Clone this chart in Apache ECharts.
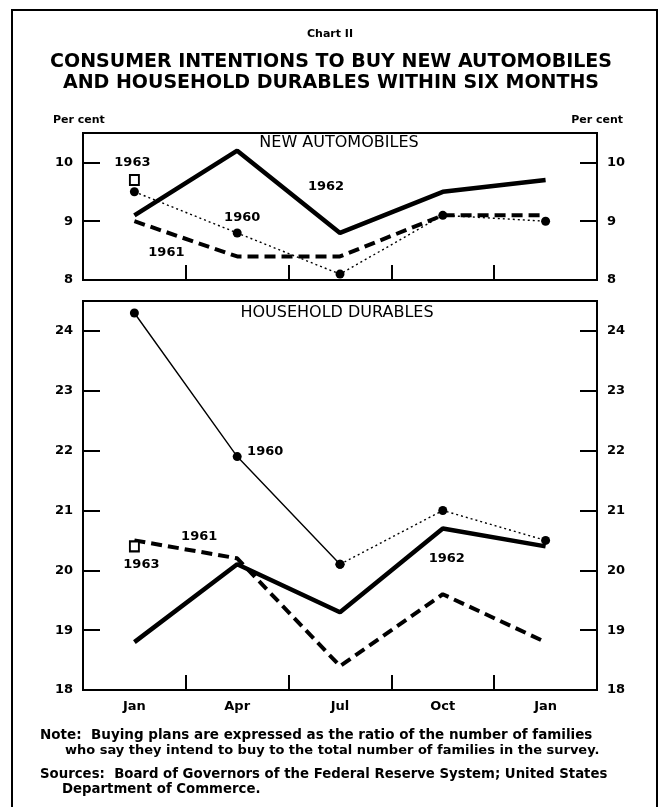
<!DOCTYPE html>
<html>
<head>
<meta charset="utf-8">
<script src="https://cdn.jsdelivr.net/npm/echarts@6/dist/echarts.min.js"></script>
<style>
html,body{margin:0;padding:0;background:#fff}
#chart{width:661px;height:807px}
</style>
</head>
<body>
<div id="chart"></div>
<script>
// categories (survey months)
var months = ['Jan', 'Apr', 'Jul', 'Oct', 'Jan'];

// new automobiles, per cent
var auto1960 = [9.5, 8.8, 8.1, 9.1, 9.0];
var auto1961 = [9.0, 8.4, 8.4, 9.1, 9.1];
var auto1962 = [9.1, 10.2, 8.8, 9.5, 9.7];
var auto1963 = [9.7, null, null, null, null];

// household durables, per cent
var dur1960 = [24.3, 21.9, 20.1, 21.0, 20.5];
var dur1961 = [20.5, 20.2, 18.4, 19.6, 18.8];
var dur1962 = [18.8, 20.1, 19.3, 20.7, 20.4];
var dur1963 = [20.4, null, null, null, null];

var autoRange = [8, 10.5];
var durRange = [18, 24.5];

var FONT = 'DejaVu Sans';
var chart = echarts.init(document.getElementById('chart'));

function part(arr, from, to) {
	var out = [];
	for (var i = 0; i < arr.length; i++) {
		out.push(i >= from && i <= to ? arr[i] : null);
	}
	return out;
}

function xAx(grid, labels) {
	return {
		type: 'category', gridIndex: grid, data: months, boundaryGap: true,
		axisLine: {show: true, lineStyle: {color: '#000', width: 2}},
		axisTick: {show: true, inside: true, length: 15, lineStyle: {color: '#000', width: 2}},
		axisLabel: {show: labels, color: '#000', fontFamily: FONT, fontWeight: 'bold', fontSize: 13, margin: 10},
		splitLine: {show: false}
	};
}
function yAx(grid, pos, range) {
	return {
		type: 'value', gridIndex: grid, position: pos, min: range[0], max: range[1], interval: 1,
		axisLine: {show: true, lineStyle: {color: '#000', width: 2}},
		axisTick: {show: true, inside: true, length: 17, lineStyle: {color: '#000', width: 2}},
		axisLabel: {color: '#000', fontFamily: FONT, fontWeight: 'bold', fontSize: 13, margin: 10,
			formatter: function (v) { return v % 1 === 0 ? v : ''; }},
		splitLine: {show: false}
	};
}

function solid(data, x, y) {
	return {type: 'line', xAxisIndex: x, yAxisIndex: y, data: data, symbol: 'none', silent: true,
		lineStyle: {color: '#000', width: 4.5}};
}
function dashed(data, x, y) {
	return {type: 'line', xAxisIndex: x, yAxisIndex: y, data: data, symbol: 'none', silent: true,
		lineStyle: {color: '#000', width: 4, type: [11, 6]}};
}
function thin(data, x, y, style) {
	return {type: 'line', xAxisIndex: x, yAxisIndex: y, data: data, symbol: 'circle', symbolSize: 9, silent: true,
		itemStyle: {color: '#000'}, lineStyle: {color: '#000', width: 1.4, type: style}};
}
function square(data, x, y) {
	return {type: 'line', xAxisIndex: x, yAxisIndex: y, data: data, symbol: 'rect', symbolSize: [9, 10], silent: true,
		showSymbol: true, itemStyle: {color: '#fff', borderColor: '#000', borderWidth: 2}, lineStyle: {width: 0}};
}

var option = {
	animation: false,
	backgroundColor: '#fff',
	grid: [
		{left: 83, top: 133, width: 514, height: 147, show: true, borderColor: '#000', borderWidth: 2},
		{left: 83, top: 301, width: 514, height: 389, show: true, borderColor: '#000', borderWidth: 2}
	],
	xAxis: [xAx(0, false), xAx(1, true)],
	yAxis: [yAx(0, 'left', autoRange), yAx(0, 'right', autoRange), yAx(1, 'left', durRange), yAx(1, 'right', durRange)],
	series: [
		solid(auto1962, 0, 0),
		dashed(auto1961, 0, 0),
		thin(auto1960, 0, 0, [2, 3]),
		square(auto1963, 0, 0),
		solid(dur1962, 1, 2),
		dashed(dur1961, 1, 2),
		thin(part(dur1960, 0, 2), 1, 2, 'solid'),
		thin(part(dur1960, 2, 4), 1, 2, [2, 3]),
		square(dur1963, 1, 2)
	]
};
chart.setOption(option);

// year labels, placed next to a data point of each line
var yearLabels = [
	{text: '1963', grid: 0, arr: auto1963, i: 0, dx: -2, dy: -17},
	{text: '1960', grid: 0, arr: auto1960, i: 1, dx: 5, dy: -15},
	{text: '1962', grid: 0, arr: auto1962, i: 2, dx: -14, dy: -46},
	{text: '1961', grid: 0, arr: auto1961, i: 0, dx: 32, dy: 31},
	{text: '1960', grid: 1, arr: dur1960, i: 1, dx: 28, dy: -5},
	{text: '1961', grid: 1, arr: dur1961, i: 1, dx: -38, dy: -22},
	{text: '1963', grid: 1, arr: dur1963, i: 0, dx: 7, dy: 18},
	{text: '1962', grid: 1, arr: dur1962, i: 3, dx: 4, dy: 30}
];

var txt = function (text, x, y, size, weight, align) {
	return {type: 'text', x: x, y: y, silent: true,
		style: {text: text, fill: '#000', font: weight + ' ' + size + 'px "' + FONT + '"',
			align: align || 'center', verticalAlign: 'middle'}};
};

var graphics = [
	{type: 'rect', silent: true, shape: {x: 12, y: 10, width: 645, height: 810},
		style: {fill: 'none', stroke: '#000', lineWidth: 2}},
	txt('Chart II', 330, 34, 11, 'bold'),
	txt('CONSUMER INTENTIONS TO BUY NEW AUTOMOBILES', 331, 62, 19, 'bold'),
	txt('AND HOUSEHOLD DURABLES WITHIN SIX MONTHS', 331, 83, 19, 'bold'),
	txt('Per cent', 53, 120, 11, 'bold', 'left'),
	txt('Per cent', 623, 120, 11, 'bold', 'right'),
	txt('NEW AUTOMOBILES', 339, 143, 16, 'normal'),
	txt('HOUSEHOLD DURABLES', 337, 313, 16, 'normal'),
	txt('Note:  Buying plans are expressed as the ratio of the number of families', 40, 735, 13.5, 'bold', 'left'),
	txt('who say they intend to buy to the total number of families in the survey.', 65, 751, 13, 'bold', 'left'),
	txt('Sources:  Board of Governors of the Federal Reserve System; United States', 40, 775, 13.3, 'bold', 'left'),
	txt('Department of Commerce.', 62, 790, 13.3, 'bold', 'left')
];
yearLabels.forEach(function (l) {
	var p = chart.convertToPixel({gridIndex: l.grid}, [l.i, l.arr[l.i]]);
	graphics.push(txt(l.text, p[0] + l.dx, p[1] + l.dy, 13, 'bold'));
});
chart.setOption({graphic: graphics});
</script>
</body>
</html>
